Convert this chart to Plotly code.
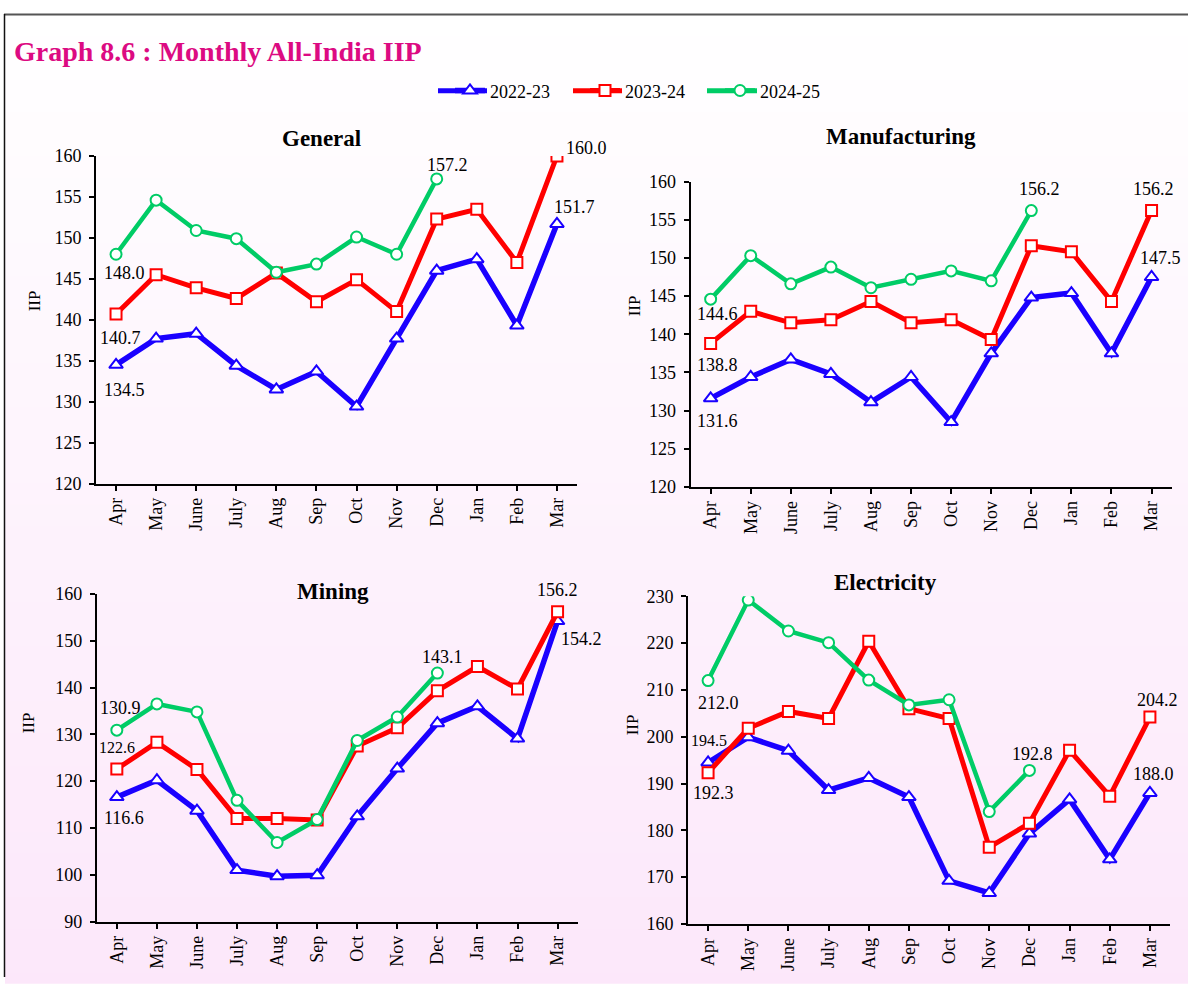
import plotly.graph_objects as go

# ---- data -------------------------------------------------------------
months = ["Apr", "May", "June", "July", "Aug", "Sep", "Oct", "Nov", "Dec", "Jan", "Feb", "Mar"]
years = ["2022-23", "2023-24", "2024-25"]

general_2223 = [134.5, 137.7, 138.3, 134.4, 131.5, 133.7, 129.4, 137.7, 146.0, 147.4, 139.3, 151.7]
general_2324 = [140.7, 145.5, 143.9, 142.6, 145.7, 142.2, 144.9, 141.0, 152.3, 153.5, 147.0, 160.0]
general_2425 = [148.0, 154.6, 150.9, 149.9, 145.8, 146.8, 150.1, 148.0, 157.2]

manuf_2223 = [131.6, 134.4, 136.7, 134.8, 131.1, 134.4, 128.5, 137.5, 144.8, 145.4, 137.5, 147.5]
manuf_2324 = [138.8, 143.0, 141.5, 141.9, 144.3, 141.5, 141.9, 139.3, 151.6, 150.8, 144.3, 156.2]
manuf_2425 = [144.6, 150.3, 146.6, 148.8, 146.1, 147.2, 148.3, 147.0, 156.2]

mining_2223 = [116.6, 120.2, 113.7, 101.0, 99.7, 99.9, 112.5, 122.7, 132.4, 136.0, 129.1, 154.2]
mining_2324 = [122.6, 128.3, 122.5, 112.0, 112.0, 111.7, 127.5, 131.4, 139.3, 144.5, 139.7, 156.2]
mining_2425 = [130.9, 136.5, 134.8, 115.9, 106.9, 111.8, 128.7, 133.7, 143.1]

elec_2223 = [194.5, 199.9, 197.0, 188.6, 191.2, 187.1, 169.2, 166.6, 179.3, 186.6, 173.8, 188.0]
elec_2324 = [192.3, 201.8, 205.4, 203.9, 220.4, 206.0, 203.9, 176.4, 181.5, 197.1, 187.3, 204.2]
elec_2425 = [212.0, 229.2, 222.6, 220.1, 212.1, 206.8, 207.9, 184.0, 192.8]

panel_titles = ["General", "Manufacturing", "Mining", "Electricity"]

# ---- styling ------------------------------------------------------------
W, H = 1188, 987
FONT = "Liberation Serif"
series_style = {
    "2022-23": dict(color="#1a00ff", width=5.5, symbol="triangle-up", size=12),
    "2023-24": dict(color="#ff0000", width=5, symbol="square", size=11),
    "2024-25": dict(color="#00cc66", width=4.5, symbol="circle", size=11),
}

# the page is shown with an 8px band above the figure and the figure
# slightly compressed vertically; layout positions below are in screen pixels
TOP_BAND, V_SCALE = 8.0, 0.982


def px_x(p):
    return p / W


def px_y(p):
    return 1 - ((p - TOP_BAND) / V_SCALE) / H


# axis boxes in screen pixels: (left, right, top, bottom), y range, tick step
panels = [
    dict(box=(96, 577, 154.3, 482.7), yr=(120, 160), dt=5,
         series=[general_2223, general_2324, general_2425],
         title_xy=(321, 137), iip_xy=(34, 300)),
    dict(box=(690.6, 1171.6, 180, 486), yr=(120, 160), dt=5,
         series=[manuf_2223, manuf_2324, manuf_2425],
         title_xy=(901, 135), iip_xy=(634, 305)),
    dict(box=(96.8, 577.6, 593.3, 921.7), yr=(90, 160), dt=10,
         series=[mining_2223, mining_2324, mining_2425],
         title_xy=(333, 591), iip_xy=(28, 723)),
    dict(box=(688, 1170, 595.7, 924), yr=(160, 230), dt=10,
         series=[elec_2223, elec_2324, elec_2425],
         title_xy=(885, 582), iip_xy=(632, 725)),
]

# value labels: (panel, series index, month index, xshift, yshift, font size)
value_labels = [
    (0, 2, 0, 8, -18, 18), (0, 1, 0, 4, -24, 18), (0, 0, 0, 8, -25, 18),
    (0, 2, 8, 11, 14, 18), (0, 1, 11, 30, 8, 18), (0, 0, 11, 18, 17, 18),
    (1, 2, 0, 7, -15, 18), (1, 1, 0, 7, -21, 18), (1, 0, 0, 7, -22, 18),
    (1, 2, 8, 8, 21, 18), (1, 1, 11, 2, 21, 18), (1, 0, 11, 9, 19, 18),
    (2, 2, 0, 4, 22, 18), (2, 1, 0, 0, 21, 16), (2, 0, 0, 7, -21, 18),
    (2, 2, 8, 5, 16, 18), (2, 1, 11, 0, 21, 18), (2, 0, 11, 24, -18, 18),
    (3, 2, 0, 10, -22, 18), (3, 0, 0, 1, 22, 16), (3, 1, 0, 5, -20, 18),
    (3, 2, 8, 3, 16, 18), (3, 1, 11, 8, 17, 18), (3, 0, 11, 4, 19, 18),
]

fig = go.Figure()
layout = dict(
    width=W, height=H,
    margin=dict(l=0, r=0, t=0, b=0),
    paper_bgcolor="white",
    plot_bgcolor="rgba(0,0,0,0)",
    font=dict(family=FONT, size=18, color="black"),
    showlegend=True,
    legend=dict(orientation="h", x=px_x(450), xanchor="left", y=px_y(89), yanchor="middle",
                entrywidth=90, itemwidth=30, font=dict(size=18, family=FONT),
                bgcolor="rgba(0,0,0,0)", traceorder="normal"),
)

annotations = []
shapes = []

# background: white at the top fading into light pink at the bottom
top, bottom = 12.5, 995
n_bands = 90
c0, c1 = (255, 255, 255), (252, 231, 250)
for i in range(n_bands):
    y0 = top + (bottom - top) * i / n_bands
    y1 = top + (bottom - top) * (i + 1) / n_bands + 1
    t = (i + 0.5) / n_bands
    col = tuple(round(c0[k] + (c1[k] - c0[k]) * t) for k in range(3))
    shapes.append(dict(type="rect", xref="paper", yref="paper", layer="below",
                       x0=px_x(5), x1=1, y0=max(px_y(y1), 0), y1=px_y(y0),
                       fillcolor="rgb(%d,%d,%d)" % col, line=dict(width=0)))
# frame lines
shapes.append(dict(type="line", xref="paper", yref="paper", x0=px_x(4), x1=1,
                   y0=px_y(12.5), y1=px_y(12.5), line=dict(color="#555555", width=2)))
shapes.append(dict(type="line", xref="paper", yref="paper", x0=px_x(4.5), x1=px_x(4.5),
                   y0=px_y(12), y1=0, line=dict(color="#111111", width=1.5)))

# legend swatches drawn a little longer than plotly's default symbol line
legend_lines = [(438, 487), (573, 622), (707, 757)]
for (lx0, lx1), yr in zip(legend_lines, years):
    shapes.append(dict(type="line", xref="paper", yref="paper", layer="above",
                       x0=px_x(lx0), x1=px_x(lx1), y0=px_y(89), y1=px_y(89),
                       line=dict(color=series_style[yr]["color"], width=5)))

for p_i, p in enumerate(panels):
    n = "" if p_i == 0 else str(p_i + 1)
    xa, ya = "x" + n, "y" + n
    left, right, tp, bt = p["box"]
    layout["xaxis" + n] = dict(
        domain=[px_x(left), px_x(right)], anchor=ya,
        type="category", categoryorder="array", categoryarray=months,
        range=[-0.5, 11.5], showline=True, linecolor="black", linewidth=2,
        ticks="outside", ticklen=5, tickwidth=1.5, tickcolor="black",
        tickangle=-90, showgrid=False, zeroline=False,
        tickfont=dict(family=FONT, size=18, color="black"),
    )
    layout["yaxis" + n] = dict(
        domain=[px_y(bt), px_y(tp)], anchor=xa,
        range=list(p["yr"]), dtick=p["dt"], tick0=p["yr"][0],
        showline=True, linecolor="black", linewidth=2,
        ticks="outside", ticklen=5, tickwidth=1.5, tickcolor="black",
        showgrid=False, zeroline=False, ticklabelstandoff=4,
        tickfont=dict(family=FONT, size=18, color="black"),
    )
    for s_i, (yr, vals) in enumerate(zip(years, p["series"])):
        st = series_style[yr]
        fig.add_trace(go.Scatter(
            x=months[:len(vals)], y=vals, xaxis=xa, yaxis=ya,
            mode="lines+markers", name=yr, legendgroup=yr,
            showlegend=(p_i == 0),
            line=dict(color=st["color"], width=st["width"]),
            marker=dict(symbol=st["symbol"], size=st["size"], color="white",
                        line=dict(color=st["color"], width=2)),
            hoverinfo="skip",
        ))
    annotations.append(dict(
        text="<b>%s</b>" % panel_titles[p_i], xref="paper", yref="paper",
        x=px_x(p["title_xy"][0]), y=px_y(p["title_xy"][1]),
        xanchor="center", yanchor="middle", showarrow=False,
        font=dict(family=FONT, size=23, color="black")))
    annotations.append(dict(
        text="IIP", xref="paper", yref="paper",
        x=px_x(p["iip_xy"][0]), y=px_y(p["iip_xy"][1]), textangle=-90,
        xanchor="center", yanchor="middle", showarrow=False,
        font=dict(family=FONT, size=17, color="black")))

for p_i, s_i, m_i, dx, dy, fs in value_labels:
    n = "" if p_i == 0 else str(p_i + 1)
    v = panels[p_i]["series"][s_i][m_i]
    annotations.append(dict(
        text="%.1f" % v, xref="x" + n, yref="y" + n, x=months[m_i], y=v,
        xshift=dx, yshift=dy / V_SCALE, showarrow=False, xanchor="center", yanchor="middle",
        font=dict(family=FONT, size=fs, color="black")))

annotations.append(dict(
    text="<b>Graph 8.6 : Monthly All-India IIP</b>", xref="paper", yref="paper",
    x=px_x(12), y=px_y(50), xanchor="left", yanchor="middle", showarrow=False,
    font=dict(family=FONT, size=28, color="#dc0a82")))

layout["annotations"] = annotations
layout["shapes"] = shapes
fig.update_layout(**layout)
fig.write_html("out.html")
